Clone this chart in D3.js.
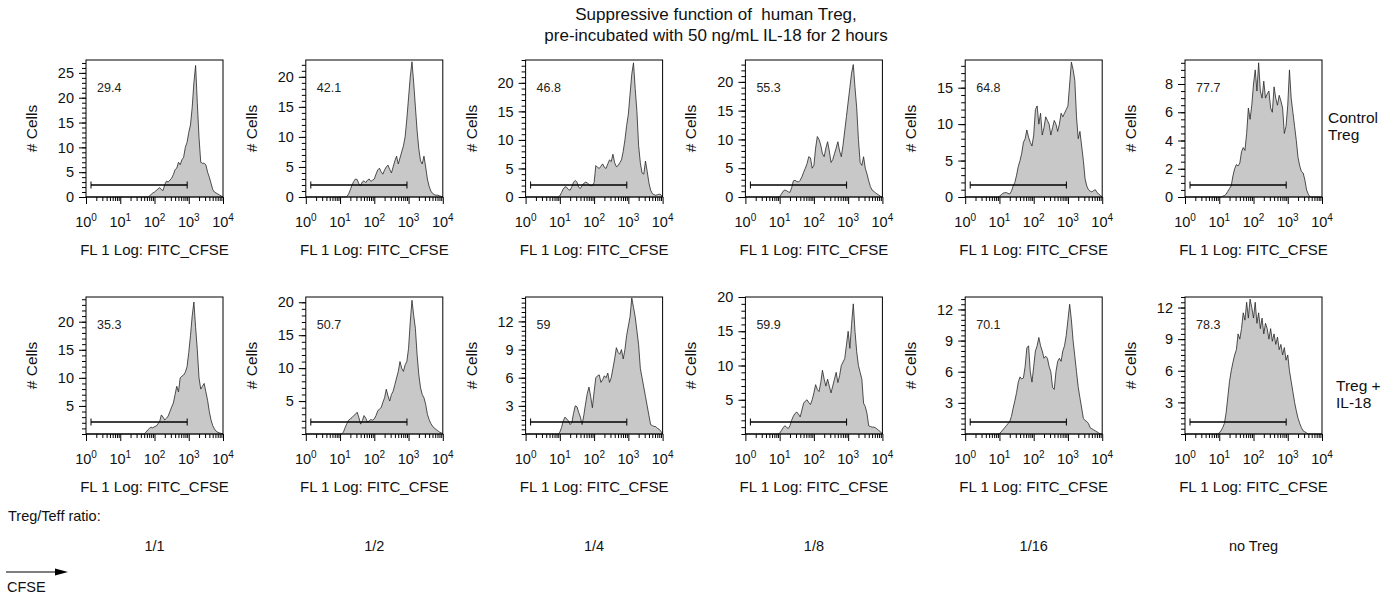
<!DOCTYPE html>
<html>
<head>
<meta charset="utf-8">
<script src="https://cdn.jsdelivr.net/npm/d3@7"></script>
<style>
  body { margin: 0; background: #fff; }
  svg { font-family: "Liberation Sans", Arial, sans-serif; }
</style>
</head>
<body>
<svg id="chart" width="1393" height="596"></svg>
<script>
// CFSE channel, log10 bin positions (one decade per line)
const binLog = [
  0, 0.05, 0.1, 0.15, 0.2, 0.25, 0.3, 0.35, 0.4, 0.45, 0.5, 0.55, 0.6, 0.65, 0.7, 0.75, 0.8, 0.85, 0.9, 0.95,
  1, 1.05, 1.1, 1.15, 1.2, 1.25, 1.3, 1.35, 1.4, 1.45, 1.5, 1.55, 1.6, 1.65, 1.7, 1.75, 1.8, 1.85, 1.9, 1.95,
  2, 2.05, 2.1, 2.15, 2.2, 2.25, 2.3, 2.35, 2.4, 2.45, 2.5, 2.55, 2.6, 2.65, 2.7, 2.75, 2.8, 2.85, 2.9, 2.95,
  3, 3.05, 3.1, 3.15, 3.2, 3.25, 3.3, 3.35, 3.4, 3.45, 3.5, 3.55, 3.6, 3.65, 3.7, 3.75, 3.8, 3.85, 3.9, 3.95,
  4
];

const ratioLabels = ['1/1', '1/2', '1/4', '1/8', '1/16', 'no Treg'];

// row 1: control Treg
const controlPct = ['29.4', '42.1', '46.8', '55.3', '64.8', '77.7'];
const controlYMax = [27.6, 22.8, 24, 23.8, 18.8, 9.7];
const controlYTicks = [[0, 5, 10, 15, 20, 25], [0, 5, 10, 15, 20], [0, 5, 10, 15, 20], [0, 5, 10, 15, 20], [0, 5, 10, 15], [0, 2, 4, 6, 8]];
const controlMinor = [1, 1, 1, 1, 1, 0.5];
const controlCounts = [
  [0,0,0,0,0,0,0,0,0,0,0,0,0,0,0,0,0,0,0,0,
   0,0,0,0,0,0,0,0,0,0,0,0,0,0,0,0,0,0.2,0.5,0.8,
   1.0,1.3,1.6,1.9,1.5,1.3,2.5,3.2,3.0,3.4,3.8,4.5,5.5,5.8,7.0,6.5,7.5,8.0,10.0,11.0,
   13.0,14.5,18.0,23.0,26.5,19.0,12.0,7.0,6.8,6.8,6.5,5.0,4.0,2.8,1.5,1.0,0.8,0.6,0.4,0.2,
   0],
  [0,0,0,0,0,0,0,0,0,0,0,0,0,0,0,0,0,0,0,0,
   0,0,0,0,0.1,0.5,1.2,2.0,2.6,3.0,2.9,2.2,1.9,2.5,2.7,2.4,2.8,3.0,2.6,2.8,
   3.0,3.8,4.5,4.8,4.2,3.8,4.5,5.0,5.3,4.6,4.0,5.0,6.0,6.8,5.5,6.5,7.5,8.5,10.0,13.0,
   16.5,20.0,22.5,19.0,15.0,11.0,8.0,6.0,5.5,6.8,5.0,3.0,1.8,1.0,0.6,0.4,0.3,0.3,0.2,0.1,
   0],
  [0,0,0,0,0,0,0,0,0,0,0,0,0,0,0,0,0,0,0,0,
   0.2,0.8,1.4,1.8,1.7,1.3,1.2,1.8,2.6,2.9,2.6,1.7,1.5,2.0,2.4,2.6,2.5,2.2,2.0,2.0,
   2.5,5.5,5.2,5.0,5.4,5.8,5.2,5.0,5.8,6.5,6.2,7.5,6.0,5.3,5.5,6.0,6.5,8.0,10.0,12.5,
   14.5,18.0,21.5,23.5,19.0,15.0,9.0,6.0,4.2,4.0,6.3,4.5,2.5,1.2,0.6,0.4,0.3,0.4,0.5,0.4,
   0],
  [0,0,0,0,0,0,0,0,0,0,0,0,0,0,0,0,0,0,0,0,
   0.1,0.5,1.0,1.2,1.1,0.9,0.8,1.6,2.8,2.9,2.7,2.6,2.9,3.5,4.3,5.0,5.8,7.0,6.8,5.0,
   5.5,8.5,10.5,10.0,9.0,7.5,7.0,8.5,9.6,8.0,6.0,6.5,7.5,8.5,9.6,8.0,7.0,9.0,11.5,14.0,
   16.5,19.0,21.5,23.0,19.0,15.5,10.0,6.0,5.5,7.0,5.0,4.0,2.8,1.8,1.2,1.0,0.7,0.5,0.3,0.1,
   0],
  [0,0,0,0,0,0,0,0,0,0,0,0,0,0,0,0,0,0,0,0,
   0.1,0.3,0.5,0.6,0.6,0.5,0.4,0.8,1.5,2.0,3.0,4.2,5.0,6.0,7.5,8.0,9.2,8.2,7.5,7.0,
   8.5,12.0,12.5,10.0,11.5,8.5,9.5,11.0,10.5,10.0,8.5,9.5,10.5,10.0,9.0,10.0,11.5,11.0,11.5,12.0,
   12.5,15.5,18.5,17.5,16.0,11.0,8.0,9.0,7.0,5.0,2.5,1.5,1.0,0.8,0.7,0.9,1.0,0.6,0.4,0.2,
   0],
  [0,0,0,0,0,0,0,0,0,0,0,0,0,0,0,0,0,0,0,0,
   0,0,0.05,0.1,0.2,0.4,0.6,0.8,1.5,2.0,2.3,2.2,2.4,3.2,3.5,3.3,4.5,6.3,5.5,6.5,
   8.0,9.0,7.5,9.5,7.5,7.0,8.2,7.0,7.3,7.5,6.3,6.0,7.8,7.0,6.5,7.2,6.8,6.3,4.5,5.0,
   6.5,9.0,7.0,6.0,5.0,4.0,2.8,2.2,1.8,1.7,1.2,0.5,0.2,0,0,0,0,0,0,0,
   0]
];

// row 2: Treg + IL-18
const il18Pct = ['35.3', '50.7', '59', '59.9', '70.1', '78.3'];
const il18YMax = [24.4, 20.8, 14.6, 20.0, 13.2, 13.0];
const il18YTicks = [[5, 10, 15, 20], [5, 10, 15, 20], [3, 6, 9, 12], [5, 10, 15, 20], [3, 6, 9, 12], [3, 6, 9, 12]];
const il18Minor = [1, 1, 0.5, 1, 0.5, 0.5];
const il18Counts = [
  [0,0,0,0,0,0,0,0,0,0,0,0,0,0,0,0,0,0,0,0,
   0,0,0,0,0,0,0,0,0,0,0,0,0,0,0,0.3,0.7,1.0,1.2,1.1,
   1.3,1.4,1.8,2.2,3.4,3.0,2.5,2.8,3.2,4.0,4.8,5.5,7.0,8.5,7.5,10.0,10.3,10.5,11.0,12.0,
   14.5,17.5,21.0,23.5,19.0,15.0,10.0,8.0,8.5,9.0,7.5,6.0,4.0,2.5,1.5,0.9,0.5,0.3,0.2,0.1,
   0],
  [0,0,0,0,0,0,0,0,0,0,0,0,0,0,0,0,0,0,0,0,
   0,0,0.3,1.0,1.6,2.1,2.3,2.5,2.8,3.0,3.3,2.5,1.5,2.0,2.8,2.4,1.8,2.0,2.2,2.1,
   2.3,2.8,3.5,3.8,4.0,4.8,5.5,6.8,5.8,5.0,6.0,6.5,7.5,8.5,9.5,11.0,10.0,9.5,10.5,11.0,
   13.0,17.0,20.3,18.0,16.0,12.0,9.0,7.0,6.0,5.5,4.5,3.0,2.2,1.6,1.2,0.9,0.7,0.5,0.3,0.2,
   0],
  [0,0,0,0,0,0,0,0,0,0,0,0,0,0,0,0,0,0,0,0,
   0.2,0.7,1.4,1.8,1.6,1.4,1.0,1.2,2.2,3.0,2.9,2.3,1.8,1.0,2.0,3.2,4.3,5.0,4.0,2.8,
   4.5,6.0,6.2,6.3,5.5,5.8,6.2,6.0,6.5,5.5,6.0,7.0,8.0,9.2,8.7,8.5,9.0,8.0,9.0,10.5,
   11.5,12.5,14.5,13.5,12.5,11.0,9.5,7.0,6.0,5.0,4.0,3.0,2.0,1.0,0.9,0.8,0.8,0.6,0.5,0.3,
   0],
  [0,0,0,0,0,0,0,0,0,0,0,0,0,0,0,0,0,0,0,0,
   0.1,0.5,0.9,1.2,1.0,0.8,1.2,2.0,2.6,3.0,3.2,2.9,2.5,3.5,4.5,4.8,5.0,4.6,4.3,5.0,
   6.0,7.2,6.5,6.2,7.5,9.3,8.0,7.0,8.0,7.0,6.0,7.0,8.0,9.0,7.5,8.5,10.0,10.5,11.0,13.0,
   15.0,12.5,16.0,19.0,15.0,12.0,10.0,9.0,8.0,4.5,4.0,3.0,1.2,1.1,1.0,1.0,0.9,0.7,0.5,0.3,
   0],
  [0,0,0,0,0,0,0,0,0,0,0,0,0,0,0,0,0,0,0,0,
   0.05,0.2,0.4,0.6,0.8,1.0,1.2,1.7,2.5,3.2,4.0,5.0,5.5,5.3,5.4,6.5,8.3,8.5,6.0,5.0,
   6.5,8.0,8.5,9.3,8.5,8.0,7.3,7.5,7.3,6.5,6.0,4.5,4.3,6.0,7.0,7.3,7.0,8.0,8.5,9.5,
   11.0,12.5,11.0,9.0,7.5,6.0,4.5,3.5,2.5,1.5,1.3,1.2,1.0,0.6,0.5,0.4,0.3,0.2,0.1,0,
   0],
  [0,0,0,0,0,0,0,0,0,0,0,0,0,0,0,0,0,0,0,0,
   0.1,0.3,0.6,1.0,2.0,3.5,5.0,6.0,6.8,7.5,8.0,9.5,9.0,10.0,11.5,10.8,12.5,11.0,12.8,12.0,
   11.0,12.5,10.5,11.5,10.0,11.0,9.5,10.5,10.0,9.0,10.0,8.8,9.5,8.5,9.2,8.0,8.5,7.5,8.2,7.0,
   7.5,6.0,5.0,4.0,3.0,2.2,1.5,1.0,0.6,0.3,0.2,0.1,0,0,0,0,0,0,0,0,
   0]
];

const rowLabels = [['Control', 'Treg'], ['Treg +', 'IL-18']];
const titleLines = ['Suppressive function of  human Treg,', 'pre-incubated with 50 ng/mL IL-18 for 2 hours'];
const gateRange = [1.4, 900];
const decades = [1, 10, 100, 1000, 10000];

const plotW = 137;
const plotH = 137;
const rowTop = [60, 297];
const colLeft = d3.scaleLinear().domain([0, 5]).range([86, 1185]);

const svg = d3.select('#chart');

const rows = [
  { counts: controlCounts, pct: controlPct, yMax: controlYMax, ticks: controlYTicks, minor: controlMinor },
  { counts: il18Counts, pct: il18Pct, yMax: il18YMax, ticks: il18YTicks, minor: il18Minor },
];

const minorX = [];
decades.slice(0, 4).forEach((d) => {
  for (let k = 2; k <= 9; k += 1) minorX.push(k * d);
});

function styleAxis(sel) {
  sel.select('.domain').remove();
  sel.selectAll('line').attr('stroke', '#000');
  sel.attr('font-family', null).attr('font-size', null);
}

function drawPanel(g, counts, pct, yMax, yTicks, minorStep) {
  const x = d3.scaleLog().domain([1, 1e4]).range([0, plotW]);
  const y = d3.scaleLinear().domain([0, yMax]).range([plotH, 0]);

  const pts = binLog.map((b, i) => ({ v: Math.pow(10, b), c: counts[i] }));
  const area = d3.area()
    .x(d => x(d.v))
    .y0(plotH)
    .y1(d => y(d.c));

  g.append('path')
    .datum(pts)
    .attr('d', area)
    .attr('fill', '#c8c8c8')
    .attr('stroke', '#262626')
    .attr('stroke-width', 0.8)
    .attr('stroke-linejoin', 'round');

  // frame
  g.append('rect')
    .attr('width', plotW)
    .attr('height', plotH)
    .attr('fill', 'none')
    .attr('stroke', '#000')
    .attr('stroke-width', 1);

  // x axis, minor + major ticks
  g.append('g')
    .attr('transform', `translate(0,${plotH})`)
    .call(d3.axisBottom(x).tickValues(minorX).tickSize(4).tickFormat(''))
    .call(styleAxis);
  g.append('g')
    .attr('transform', `translate(0,${plotH})`)
    .call(d3.axisBottom(x).tickValues(decades).tickSize(7).tickFormat(''))
    .call(styleAxis);

  const xl = g.append('g').selectAll('text')
    .data(decades)
    .enter().append('text')
    .attr('x', d => x(d))
    .attr('y', plotH + 30)
    .attr('text-anchor', 'middle')
    .attr('font-size', 14.5)
    .attr('fill', '#111');
  xl.append('tspan').text('10');
  xl.append('tspan')
    .attr('dy', -6.5)
    .attr('font-size', 10)
    .text(d => Math.round(Math.log10(d)));

  g.append('text')
    .attr('x', plotW / 2)
    .attr('y', plotH + 58)
    .attr('text-anchor', 'middle')
    .attr('font-size', 15)
    .attr('fill', '#111')
    .text('FL 1 Log: FITC_CFSE');

  // y axis
  const minorY = d3.range(0, yMax + 1e-6, minorStep);
  g.append('g')
    .call(d3.axisLeft(y).tickValues(minorY).tickSize(4).tickFormat(''))
    .call(styleAxis);
  g.append('g')
    .call(d3.axisLeft(y).tickValues(yTicks).tickSize(7).tickPadding(5))
    .call(styleAxis)
    .selectAll('text')
    .attr('font-size', 14.5)
    .attr('fill', '#111');

  g.append('text')
    .attr('transform', `translate(-49,${plotH / 2}) rotate(-90)`)
    .attr('text-anchor', 'middle')
    .attr('font-size', 15.5)
    .attr('fill', '#111')
    .text('# Cells');

  // gate marker
  const gy = plotH - 12;
  const gate = g.append('g').attr('stroke', '#000').attr('stroke-width', 1.4);
  gate.append('line')
    .attr('x1', x(gateRange[0])).attr('x2', x(gateRange[1]))
    .attr('y1', gy).attr('y2', gy);
  gateRange.forEach((v) => {
    gate.append('line')
      .attr('x1', x(v)).attr('x2', x(v))
      .attr('y1', gy - 3.5).attr('y2', gy + 3.5)
      .attr('stroke-width', 1);
  });

  g.append('text')
    .attr('x', 11)
    .attr('y', 32)
    .attr('font-size', 12.5)
    .attr('fill', '#222')
    .text(pct);
}

rows.forEach((row, r) => {
  row.counts.forEach((counts, c) => {
    const g = svg.append('g')
      .attr('transform', `translate(${colLeft(c)},${rowTop[r]})`);
    drawPanel(g, counts, row.pct[c], row.yMax[c], row.ticks[c], row.minor[c]);
  });
});

// row labels
const rowLabelPos = [[1328, 123], [1336, 391]];
rowLabels.forEach((lines, r) => {
  const t = svg.append('text')
    .attr('font-size', 15.5)
    .attr('fill', '#111');
  lines.forEach((line, i) => {
    t.append('tspan')
      .attr('x', rowLabelPos[r][0])
      .attr('y', rowLabelPos[r][1] + i * 17)
      .text(line);
  });
});

// title
svg.append('g').selectAll('text')
  .data(titleLines)
  .enter().append('text')
  .attr('x', 716)
  .attr('y', (d, i) => 20 + i * 21)
  .attr('text-anchor', 'middle')
  .attr('font-size', 17)
  .attr('fill', '#111')
  .style('white-space', 'pre')
  .text(d => d);

// ratio row
svg.append('text')
  .attr('x', 8)
  .attr('y', 521)
  .attr('font-size', 14.5)
  .attr('fill', '#111')
  .text('Treg/Teff ratio:');

svg.append('g').selectAll('text')
  .data(ratioLabels)
  .enter().append('text')
  .attr('x', (d, i) => colLeft(i) + plotW / 2)
  .attr('y', 551)
  .attr('text-anchor', 'middle')
  .attr('font-size', 14.5)
  .attr('fill', '#111')
  .text(d => d);

// CFSE arrow
svg.append('line')
  .attr('x1', 6).attr('x2', 58)
  .attr('y1', 572).attr('y2', 572)
  .attr('stroke', '#000')
  .attr('stroke-width', 1.2);
svg.append('path')
  .attr('d', 'M55,568.5 L68,572 L55,575.5 Z')
  .attr('fill', '#000');
svg.append('text')
  .attr('x', 7)
  .attr('y', 592)
  .attr('font-size', 14.5)
  .attr('fill', '#111')
  .text('CFSE');
</script>
</body>
</html>
